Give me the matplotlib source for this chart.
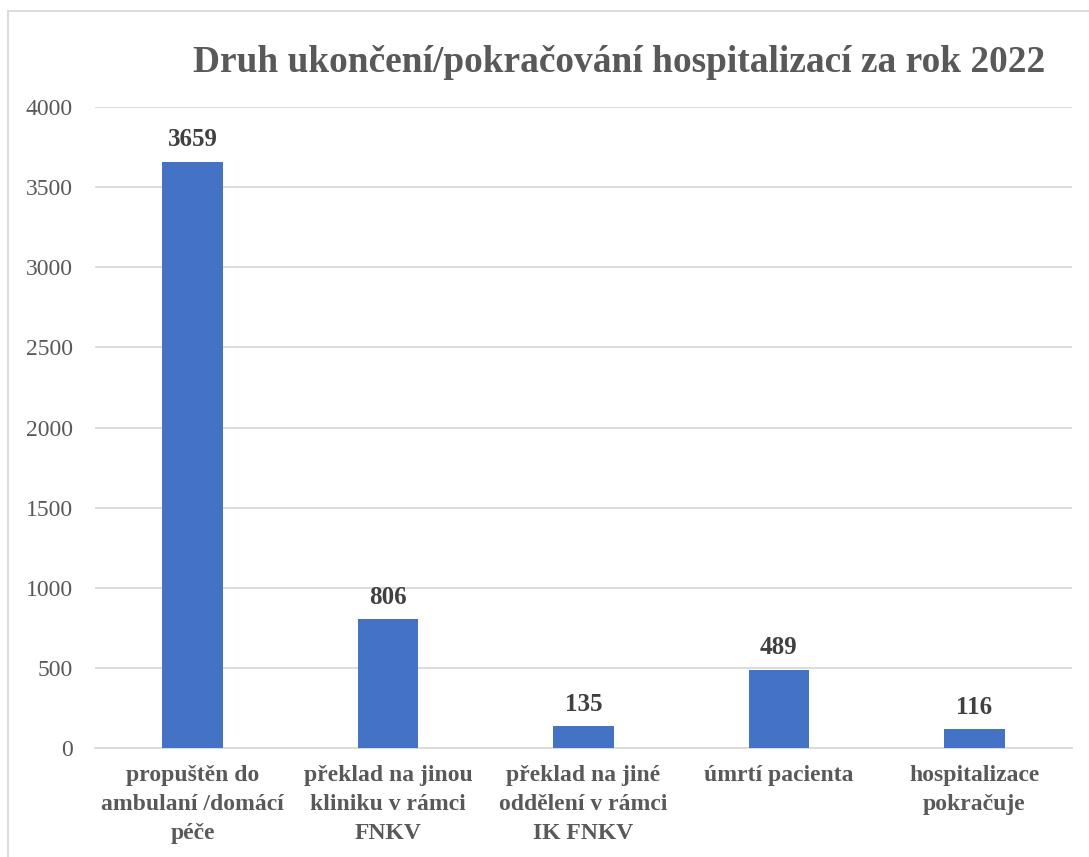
import matplotlib.pyplot as plt
from matplotlib.lines import Line2D

categories = ['propuštěn do\nambulaní /domácí\npéče',
              'překlad na jinou\nkliniku v rámci\nFNKV',
              'překlad na jiné\noddělení v rámci\nIK FNKV',
              'úmrtí pacienta',
              'hospitalizace\npokračuje']
values = [3659, 806, 135, 489, 116]
yticks = [0, 500, 1000, 1500, 2000, 2500, 3000, 3500, 4000]

plt.rcParams['font.family'] = ['Liberation Serif', 'DejaVu Serif']

W, H = 1089, 857
fig = plt.figure(figsize=(W / 100, H / 100), dpi=100)
ax = fig.add_axes([95 / W, 1 - 748 / H, (1072 - 95) / W, (748 - 107) / H])

x = range(len(values))
bars = ax.bar(x, values, width=0.31, color='#4472C4', zorder=3)
for b, v in zip(bars, values):
    ax.annotate(str(v), (b.get_x() + b.get_width() / 2, v), xytext=(0, 11),
                textcoords='offset points', ha='center', va='baseline',
                fontsize=18, fontweight='bold', color='#404040')

ax.set_xlim(-0.5, len(values) - 0.5)
ax.set_ylim(0, 4000)
ax.set_yticks(yticks)
ax.set_yticklabels([str(t) for t in yticks], fontsize=17, color='#595959')
ax.set_xticks(list(x))
ax.set_xticklabels(categories, fontsize=17, fontweight='bold', color='#595959',
                   linespacing=1.5, va='top')
ax.tick_params(axis='both', length=0)
ax.tick_params(axis='y', pad=16)
ax.tick_params(axis='x', pad=12)
ax.grid(axis='y', color='#d9d9d9', linewidth=1.3, zorder=0)
for s in ['top', 'right', 'left']:
    ax.spines[s].set_visible(False)
ax.spines['bottom'].set_color('#d9d9d9')
ax.spines['bottom'].set_linewidth(1.3)

fig.text(619 / W, 1 - 62 / H, 'Druh ukončení/pokračování hospitalizací za rok 2022',
         ha='center', va='center', fontsize=26.9, fontweight='bold', color='#595959')

# chart border
fig.add_artist(Line2D([8 / W, 1], [1 - 11 / H, 1 - 11 / H], color='#d9d9d9', linewidth=1.3))
fig.add_artist(Line2D([8 / W, 8 / W], [0, 1 - 11 / H], color='#d9d9d9', linewidth=1.3))

fig.savefig('out.png', dpi=100)
